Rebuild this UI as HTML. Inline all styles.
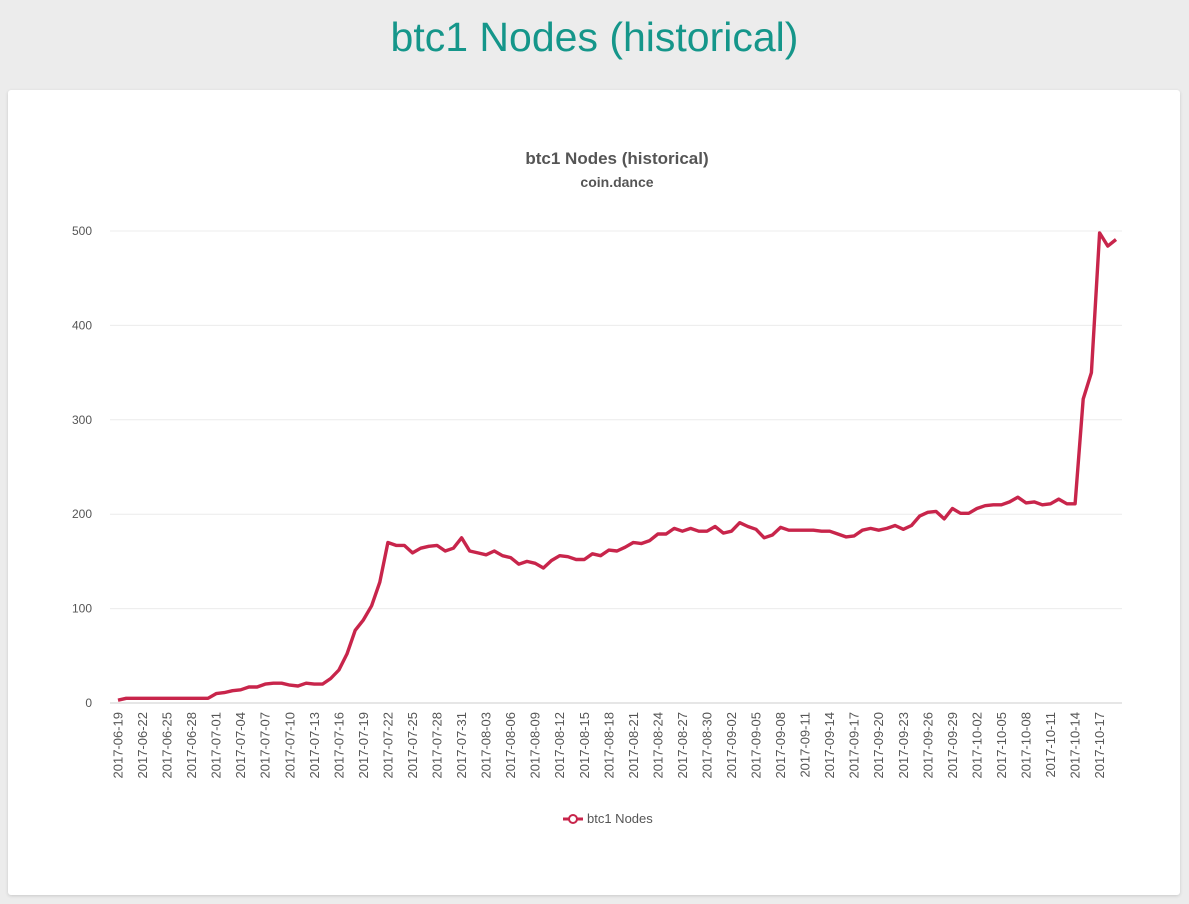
<!DOCTYPE html>
<html><head><meta charset="utf-8"><style>
body{margin:0;width:1189px;height:904px;background:#ececec;font-family:"Liberation Sans",sans-serif;overflow:hidden;position:relative}
#page-title{position:absolute;top:14px;left:0;width:1189px;text-align:center;font-size:41px;color:#15968a}
#card{position:absolute;left:8px;top:90px;width:1172px;height:805px;background:#fff;border-radius:3px;box-shadow:0 1px 3px rgba(0,0,0,.15)}
svg{position:absolute;left:0;top:0}
</style></head><body>
<div id="page-title">btc1 Nodes (historical)</div>
<div id="card"></div>
<svg id="chart" width="1189" height="904"></svg>
<script>
const startDate = "2017-06-19";
const nodeValues = [3,5,5,5,5,5,5,5,5,5,5,5,10,11,13,14,17,17,20,21,21,19,18,21,20,20,26,35,52,77,88,103,128,170,167,167,159,164,166,167,161,164,175,161,159,157,161,156,154,147,150,148,143,151,156,155,152,152,158,156,162,161,165,170,169,172,179,179,185,182,185,182,182,187,180,182,191,187,184,175,178,186,183,183,183,183,182,182,179,176,177,183,185,183,185,188,184,188,198,202,203,195,206,201,201,206,209,210,210,213,218,212,213,210,211,216,211,211,322,350,498,484,491];
const yTicks = [0,100,200,300,400,500];
const NS="http://www.w3.org/2000/svg";
const svg=document.getElementById('chart');
const x0=118, dx=8.18, yBase=703, yPer=0.944;
const xs=i=>x0+i*dx, ys=v=>yBase-v*yPer;
function mk(t,a,txt){const e=document.createElementNS(NS,t);for(const k in a)e.setAttribute(k,a[k]);if(txt!==undefined)e.textContent=txt;svg.appendChild(e);return e;}
let e;
e=mk('text',{x:617,y:164,'text-anchor':'middle','font-size':17,'font-weight':'bold',fill:'#555'},'btc1 Nodes (historical)');


e=mk('text',{x:617,y:187,'text-anchor':'middle','font-size':14,'font-weight':'bold',fill:'#555'},'coin.dance');


yTicks.forEach(v=>{
  e=mk('line',{x1:110,x2:1122,y1:ys(v),y2:ys(v),stroke:v===0?'#ccc':'#ececec','stroke-width':1});
  
  
  e=mk('text',{x:92,y:ys(v)+4,'text-anchor':'end','font-size':12,fill:'#555'},String(v));
  
  
});
const d0=new Date(startDate+"T00:00:00Z");
nodeValues.forEach((v,i)=>{
  if(i%3!==0)return;
  const d=new Date(d0.getTime()+i*86400000);
  const lbl=d.toISOString().slice(0,10);
  const x=xs(i);
  e=mk('text',{x:0,y:0,'text-anchor':'end','font-size':13,fill:'#555',transform:`translate(${x+4.5},712) rotate(-90)`},lbl);
  
  
});
const pts=nodeValues.map((v,i)=>xs(i).toFixed(1)+','+ys(v).toFixed(1)).join(' ');
e=mk('polyline',{points:pts,fill:'none',stroke:'#c8254b','stroke-width':3.4,'stroke-linejoin':'round'});


e=mk('line',{x1:563,x2:583,y1:819,y2:819,stroke:'#c8254b','stroke-width':3});


e=mk('circle',{cx:573,cy:819,r:4,fill:'#fff',stroke:'#c8254b','stroke-width':2});


e=mk('text',{x:587,y:823,'font-size':13,fill:'#555'},'btc1 Nodes');


</script>
</body></html>
